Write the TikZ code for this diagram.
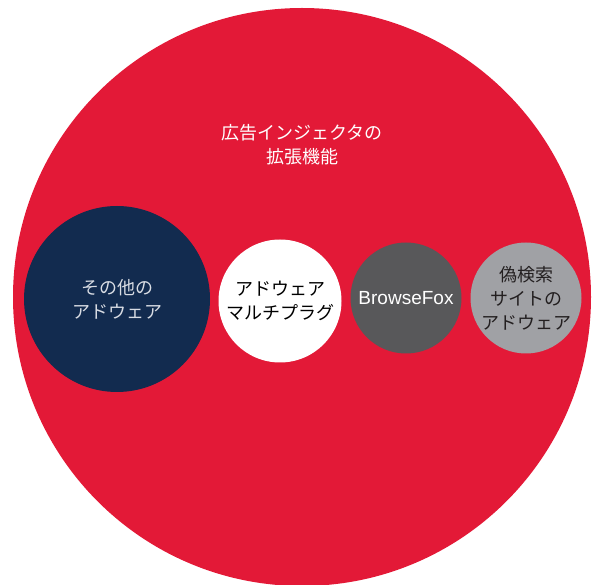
\documentclass[tikz,border=0pt]{standalone}
\usepackage{fontspec}
\newfontfamily\jpfont{Noto Sans CJK JP}
\newfontfamily\latinfont{Liberation Sans}
\definecolor{adred}{HTML}{E31937}
\definecolor{adnavy}{HTML}{122B4F}
\definecolor{addark}{HTML}{58585A}
\definecolor{adlight}{HTML}{A0A1A5}
\definecolor{navytext}{HTML}{D8DCE3}
\definecolor{darktext}{HTML}{231F20}

\begin{document}
\begin{tikzpicture}[x=1pt, y=-1pt,
	bubble/.style={circle, inner sep=0pt, align=center, font=\jpfont\fontsize{18}{24}\selectfont}]
	\useasboundingbox (0, 0) rectangle (592, 585);

	% outer circle
	\fill[adred] (302, 297) circle [radius=289pt];
	\node[align=center, text=white, font=\jpfont\fontsize{18}{24}\selectfont] (title) at (302, 145) {広告インジェクタの\\拡張機能};

	% inner circles
	\node[bubble, fill=adnavy, text=navytext, minimum size=186pt] (other) at (117, 299) {その他の\\アドウェア};
	\node[bubble, fill=white, text=black, minimum size=123pt] (multi) at (280, 301) {アドウェア\\マルチプラグ};
	\node[bubble, fill=addark, text=white, minimum size=111pt, font=\latinfont\fontsize{19}{24}\selectfont] (fox) at (406, 298) {BrowseFox};
	\node[bubble, fill=adlight, text=darktext, minimum size=111pt] (fake) at (526, 298) {偽検索\\サイトの\\アドウェア};
\end{tikzpicture}
\end{document}
